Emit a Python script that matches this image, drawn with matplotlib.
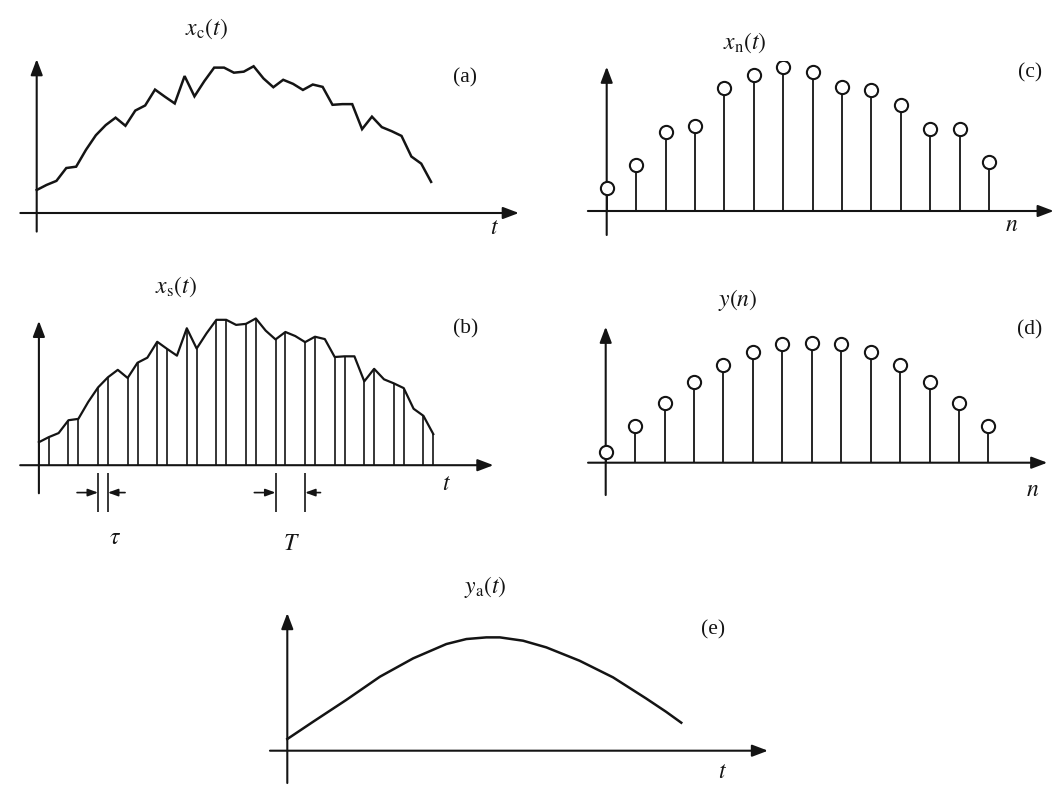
# Sampling / reconstruction sketch: x_c(t), x_s(t), x_n, y(n), y_a(t)

import matplotlib
matplotlib.use('Agg')
import matplotlib.pyplot as plt

plt.rcParams['mathtext.fontset'] = 'stix'
plt.rcParams['font.family'] = ['Liberation Serif', 'DejaVu Serif']

# continuous input, read at every tau step (41 points)
xc = [0.68, 0.83, 0.95, 1.33, 1.37, 1.87, 2.30, 2.60, 2.82, 2.58, 3.03,
      3.18, 3.65, 3.44, 3.24, 4.05, 3.45, 3.90, 4.30, 4.30, 4.15, 4.18,
      4.34, 3.98, 3.72, 3.94, 3.82, 3.64, 3.80, 3.73, 3.20, 3.22, 3.22,
      2.48, 2.85, 2.54, 2.42, 2.28, 1.67, 1.46, 0.92]
t_c = list(range(len(xc)))

# pulse edges (start, end) in tau steps, period T = 3 tau
pulse_start = [0, 3, 6, 9, 12, 15, 18, 21, 24, 27, 30, 33, 36, 39]
pulse_end = [1, 4, 7, 10, 13, 16, 19, 22, 25, 28, 31, 34, 37, 40]

# sampled sequence x_n and filtered y(n)
n = list(range(14))
xn = [0.70, 1.38, 2.36, 2.55, 3.68, 4.08, 4.31, 4.16, 3.73, 3.63, 3.18,
      2.45, 2.45, 1.46]
yn = [0.33, 1.11, 1.80, 2.43, 2.93, 3.31, 3.56, 3.60, 3.56, 3.31, 2.93,
      2.43, 1.80, 1.11]

# reconstructed output
t_a = [0, 0.88, 2.0, 3.15, 4.28, 5.41, 6.09, 6.77, 7.23, 8.02, 8.81,
       9.94, 11.08, 12.2, 12.88, 13.4]
ya = [0.35, 0.87, 1.52, 2.22, 2.77, 3.20, 3.35, 3.40, 3.40, 3.30, 3.10,
      2.70, 2.20, 1.57, 1.17, 0.84]

W, H = 1063, 792
fig = plt.figure(figsize=(W / 100, H / 100), dpi=100)
fig.patch.set_facecolor('white')
INK = '#141414'


def make_panel(ox, oy, sx, sy, xlim, ylim):
  # ox, oy: pixel position of data origin (y from top), sx/sy: px per unit
  x0, x1 = xlim
  y0, y1 = ylim
  left = ox + x0 * sx
  bottom = oy - y0 * sy
  ax = fig.add_axes([left / W, 1 - bottom / H, (x1 - x0) * sx / W, (y1 - y0) * sy / H])
  ax.set_xlim(x0, x1)
  ax.set_ylim(y0, y1)
  ax.axis('off')
  return ax


def axis_arrows(ax, xa, ya_):
  style = dict(arrowstyle='-|>,head_length=0.95,head_width=0.36', mutation_scale=10,
               lw=1.5, color=INK, shrinkA=0, shrinkB=0)
  ax.annotate('', xy=(xa[1], 0), xytext=(xa[0], 0), arrowprops=style)
  ax.annotate('', xy=(0, ya_[1]), xytext=(0, ya_[0]), arrowprops=style)


def label(x, y, s, size=17):
  fig.text(x / W, 1 - y / H, s, ha='center', va='center', fontsize=size, color=INK)


# (a) continuous signal
ax = make_panel(36.7, 213, 9.86, 33.81, (-2, 49.5), (-0.7, 4.7))
axis_arrows(ax, (-1.66, 48.9), (-0.55, 4.55))
ax.plot(t_c, xc, color=INK, lw=1.8, solid_joinstyle='miter')
label(206, 29, r'$x_{\rm c}(t)$')
label(465, 78, '(a)', 15.5)
label(494, 229, r'$t$')

# (b) pulse-sampled signal
ax = make_panel(38.9, 465.2, 9.86, 33.81, (-2.2, 46.6), (-1.6, 4.5))
axis_arrows(ax, (-1.9, 46.1), (-0.83, 4.27))
ax.plot(t_c, xc, color=INK, lw=1.6)
for s, e in zip(pulse_start, pulse_end):
  ax.vlines([t_c[s], t_c[e]], 0, [xc[s], xc[e]], color=INK, lw=1.2)
# tau and T markers
ax.vlines([6, 7, 24, 27], -1.39, -0.23, color=INK, lw=1.2)
small = dict(arrowstyle='-|>,head_length=0.6,head_width=0.22', mutation_scale=10,
             lw=1.2, color=INK, shrinkA=0, shrinkB=0)
ax.annotate('', xy=(6, -0.81), xytext=(3.87, -0.81), arrowprops=small)
ax.annotate('', xy=(7, -0.81), xytext=(8.74, -0.81), arrowprops=small)
ax.annotate('', xy=(24, -0.81), xytext=(21.85, -0.81), arrowprops=small)
ax.annotate('', xy=(27, -0.81), xytext=(28.56, -0.81), arrowprops=small)
label(176, 287, r'$x_{\rm s}(t)$')
label(466, 329, '(b)', 15.5)
label(446, 485, r'$t$')
label(115, 539, r'$\tau$')
label(291, 544, r'$T$')


def stems(ax, xs, vals):
  ax.vlines(xs, 0, vals, color=INK, lw=1.3)
  ax.plot(xs, vals, 'o', ms=9.5, mfc='white', mec=INK, mew=1.5, zorder=3)


# (c) sampled sequence
ax = make_panel(606.7, 211, 29.41, 33.33, (-0.8, 15.5), (-0.8, 4.5))
axis_arrows(ax, (-0.64, 15.2), (-0.72, 4.33))
stems(ax, n, xn)
label(745, 43, r'$x_{\rm n}(t)$')
label(1030, 73, '(c)', 15.5)
label(1012, 225, r'$n$')

# (d) filtered sequence
ax = make_panel(605.7, 462.7, 29.44, 33.33, (-0.8, 15.3), (-1.1, 4.3))
axis_arrows(ax, (-0.6, 15.0), (-0.97, 4.08))
stems(ax, n, yn)
label(738, 300, r'$y(n)$')
label(1030, 330, '(d)', 15.5)
label(1033, 490, r'$n$')

# (e) reconstructed analog output
ax = make_panel(287.3, 750.7, 29.4, 33.33, (-0.8, 16.6), (-1.1, 4.3))
axis_arrows(ax, (-0.59, 16.35), (-0.97, 4.13))
ax.plot(t_a, ya, color=INK, lw=1.8)
label(485, 587, r'$y_{\rm a}(t)$')
label(713, 630, '(e)', 15.5)
label(722, 773, r'$t$')

fig.savefig('out.png', dpi=100, facecolor='white')
